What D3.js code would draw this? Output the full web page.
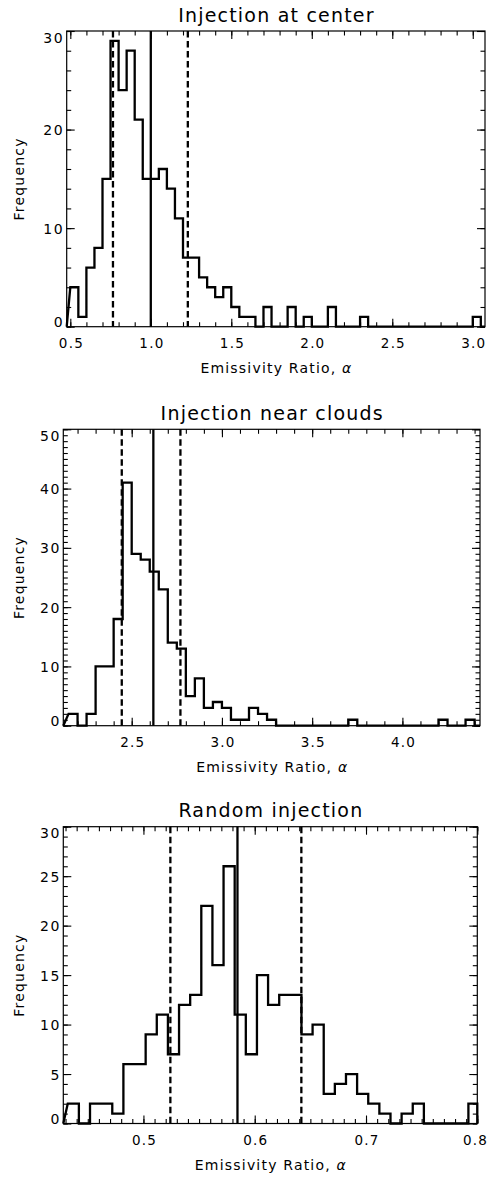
<!DOCTYPE html>
<html>
<head>
<meta charset="utf-8">
<script src="https://cdn.jsdelivr.net/npm/d3@7"></script>
<style>
  body { margin: 0; background: #fff; }
  svg { display: block; background: #fff; }
  text { font-family: "DejaVu Sans", sans-serif; fill: #000; }
</style>
</head>
<body>
<svg id="chart" width="490" height="1177"></svg>
<script>
// Panel titles
const titles = ['Injection at center', 'Injection near clouds', 'Random injection'];
const xTitle = 'Emissivity Ratio, ';
const yTitle = 'Frequency';

// Injection at center: first bin edge, bin width, counts per bin
const centerStart = 0.5;
const centerWidth = 0.05;
const centerCounts = [4, 1, 6, 8, 15, 29, 24, 28, 21, 15, 15, 16, 14, 11, 7, 7, 5, 4, 3, 4,
  2, 1, 1, 0, 2, 0, 0, 2, 0, 1, 0, 0, 2, 0, 0, 0, 1, 0, 0, 0,
  0, 0, 0, 0, 0, 0, 0, 0, 0, 0, 1, 0];
const centerLines = [0.765, 1.0, 1.23]; // dashed, solid, dashed
const centerXRange = [0.4776, 3.076];
const centerYRange = [0, 30];
const centerXTicks = [0.5, 1.0, 1.5, 2.0, 2.5, 3.0];
const centerYTicks = [0, 10, 20, 30];

// Injection near clouds
const cloudStart = 2.15;
const cloudWidth = 0.05;
const cloudCounts = [2, 0, 2, 10, 10, 18, 41, 29, 28, 26, 23, 14, 13, 5, 8, 3, 4, 3, 1, 1,
  3, 2, 1, 0, 0, 0, 0, 0, 0, 0, 0, 1, 0, 0, 0, 0, 0, 0, 0, 0,
  0, 1, 0, 0, 1, 0];
const cloudLines = [2.445, 2.62, 2.77];
const cloudXRange = [2.121, 4.43];
const cloudYRange = [0, 50];
const cloudXTicks = [2.5, 3.0, 3.5, 4.0];
const cloudYTicks = [0, 10, 20, 30, 40, 50];

// Random injection
const randomStart = 0.432;
const randomWidth = 0.01;
const randomCounts = [2, 0, 2, 2, 1, 6, 6, 9, 11, 7, 12, 13, 22, 16, 26, 11, 7, 15, 12, 13,
  13, 9, 10, 3, 4, 5, 3, 2, 1, 0, 1, 2, 0, 0, 0, 0, 2];
const randomLines = [0.5242, 0.5845, 0.6419];
const randomXRange = [0.428, 0.80];
const randomYRange = [0, 30];
const randomXTicks = [0.5, 0.6, 0.7, 0.8];
const randomYTicks = [0, 5, 10, 15, 20, 25, 30];

const panels = [
  { title: titles[0], start: centerStart, width: centerWidth, counts: centerCounts, lines: centerLines,
    xRange: centerXRange, yRange: centerYRange, xTicks: centerXTicks, yTicks: centerYTicks,
    xMinor: 0.1, yMinor: 2, box: { left: 66.7, right: 485, top: 31, bottom: 326.7 } },
  { title: titles[1], start: cloudStart, width: cloudWidth, counts: cloudCounts, lines: cloudLines,
    xRange: cloudXRange, yRange: cloudYRange, xTicks: cloudXTicks, yTicks: cloudYTicks,
    xMinor: 0.1, yMinor: 1, box: { left: 63.3, right: 480, top: 429.3, bottom: 725.7 } },
  { title: titles[2], start: randomStart, width: randomWidth, counts: randomCounts, lines: randomLines,
    xRange: randomXRange, yRange: randomYRange, xTicks: randomXTicks, yTicks: randomYTicks,
    xMinor: 0.01, yMinor: 1, box: { left: 63.3, right: 477.3, top: 826.7, bottom: 1123.5 } }
];

const svg = d3.select('#chart');
const majorLen = 8;
const minorLen = 4.5;

function minorTicks(range, step) {
  const a = Math.ceil(range[0] / step - 1e-9);
  const b = Math.floor(range[1] / step + 1e-9);
  return d3.range(a, b + 1).map(i => +(i * step).toFixed(6));
}

panels.forEach(p => {
  const b = p.box;
  const w = b.right - b.left;
  const h = b.bottom - b.top;

  const x = d3.scaleLinear().domain(p.xRange).range([b.left, b.right]);
  const y = d3.scaleLinear().domain(p.yRange).range([b.bottom, b.top]);

  const g = svg.append('g');

  // Histogram step outline
  const pts = [[p.xRange[0], 0]];
  p.counts.forEach((c, i) => {
    const a = Math.max(p.start + i * p.width, p.xRange[0]);
    const e = Math.min(p.start + (i + 1) * p.width, p.xRange[1]);
    if (e <= a) return;
    pts.push([a, c], [e, c]);
  });
  pts.push([p.xRange[1], 0]);

  g.append('path')
    .attr('d', d3.line().x(d => x(d[0])).y(d => y(d[1]))(pts))
    .attr('fill', 'none')
    .attr('stroke', '#000')
    .attr('stroke-width', 2.3)
    .attr('stroke-linejoin', 'miter');

  // Median and spread lines
  g.selectAll('.vline')
    .data(p.lines)
    .enter()
    .append('line')
    .attr('x1', d => x(d))
    .attr('x2', d => x(d))
    .attr('y1', b.top)
    .attr('y2', b.bottom)
    .attr('stroke', '#000')
    .attr('stroke-width', 2.3)
    .attr('stroke-dasharray', (d, i) => i === 1 ? null : '6.5,3.5');

  // Ticks on all four sides, pointing inward
  const xMin = minorTicks(p.xRange, p.xMinor);
  const yMin = minorTicks(p.yRange, p.yMinor);
  const axes = [
    [d3.axisBottom(x), `translate(0,${b.bottom})`, xMin, p.xTicks],
    [d3.axisTop(x), `translate(0,${b.top})`, xMin, p.xTicks],
    [d3.axisLeft(y), `translate(${b.left},0)`, yMin, p.yTicks],
    [d3.axisRight(y), `translate(${b.right},0)`, yMin, p.yTicks]
  ];
  axes.forEach(([ax, tr, minors, majors]) => {
    g.append('g').attr('transform', tr)
      .call(ax.tickValues(minors).tickSize(-minorLen).tickSizeOuter(0).tickFormat(''))
      .call(s => s.select('.domain').remove());
    g.append('g').attr('transform', tr)
      .call(ax.tickValues(majors).tickSize(-majorLen).tickSizeOuter(0).tickFormat(''))
      .call(s => s.select('.domain').remove());
  });
  g.selectAll('.tick line').attr('stroke-width', 1.1);

  // Tick labels
  g.append('g')
    .attr('transform', `translate(0,${b.bottom})`)
    .call(d3.axisBottom(x).tickValues(p.xTicks).tickSize(0).tickPadding(12).tickFormat(d3.format('.1f')))
    .call(s => s.select('.domain').remove())
    .selectAll('text')
    .attr('font-size', 13.5)
    .attr('letter-spacing', 1.2)
    .attr('dx', d => Math.min(0.6, 487 - x(d) - 12))
    .attr('font-family', '"DejaVu Sans", sans-serif');

  g.append('g')
    .attr('transform', `translate(${b.left},0)`)
    .call(d3.axisLeft(y).tickValues(p.yTicks).tickSize(0).tickPadding(4).tickFormat(d3.format('d')))
    .call(s => s.select('.domain').remove())
    .selectAll('text')
    .attr('font-size', 14)
    .attr('letter-spacing', 1.6)
    .attr('dx', 1.6)
    .attr('font-family', '"DejaVu Sans", sans-serif')
    .attr('dy', null)
    .attr('y', d => Math.min(Math.max(y(d) + 5, b.top + 11), b.bottom) - y(d));

  // Frame
  g.append('rect')
    .attr('x', b.left).attr('y', b.top)
    .attr('width', w).attr('height', h)
    .attr('fill', 'none')
    .attr('stroke', '#000')
    .attr('stroke-width', 1.2);

  // Title
  g.append('text')
    .attr('x', b.left + w / 2 + 0.6)
    .attr('y', b.top - 9.5)
    .attr('text-anchor', 'middle')
    .attr('font-size', 19)
    .attr('letter-spacing', 1.2)
    .text(p.title);

  // X axis title
  const xt = g.append('text')
    .attr('x', b.left + w / 2 + 0.6)
    .attr('y', b.bottom + 46)
    .attr('text-anchor', 'middle')
    .attr('font-size', 14)
    .attr('letter-spacing', 1.2)
    .text(xTitle);
  xt.append('tspan').attr('font-style', 'italic').text('α');

  // Y axis title
  g.append('text')
    .attr('transform', `translate(19,${b.top + h / 2}) rotate(-90)`)
    .attr('text-anchor', 'middle')
    .attr('dominant-baseline', 'central')
    .attr('font-size', 14)
    .attr('letter-spacing', 1.2)
    .text(yTitle);
});
</script>
</body>
</html>
